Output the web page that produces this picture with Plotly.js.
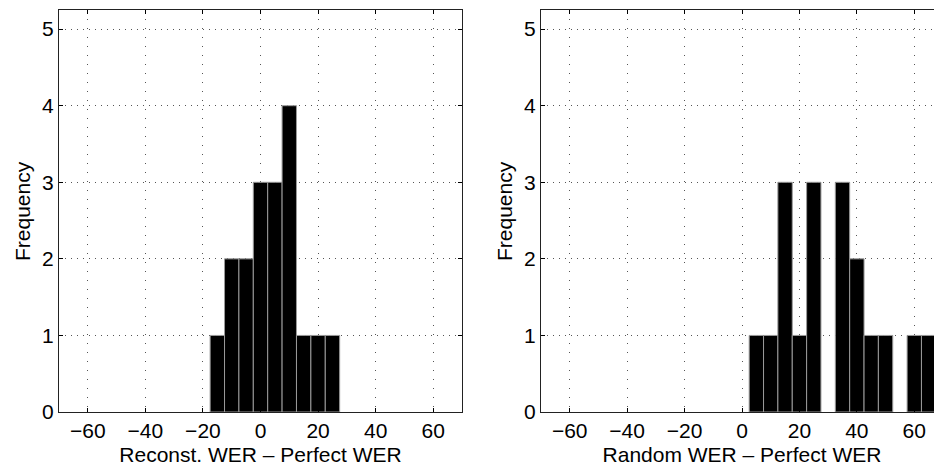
<!DOCTYPE html>
<html>
<head>
<meta charset="utf-8">
<script src="https://cdn.plot.ly/plotly-3.0.1.min.js"></script>
<style>
html, body { margin:0; padding:0; overflow:hidden; background:#fff; }
#chart { width:944px; height:469px; }
</style>
</head>
<body>
<div id="chart"></div>
<script>
// Histogram bin centers (width 5) and frequencies
const reconBins   = [-15, -10, -5, 0, 5, 10, 15, 20, 25];
const reconCounts = [  1,   2,  2, 3, 3,  4,  1,  1,  1];

const randomBins   = [5, 10, 15, 20, 25, 35, 40, 45, 50, 60, 65];
const randomCounts = [1,  1,  3,  1,  3,  3,  2,  1,  1,  1,  1];

const xTicks = [-60, -40, -20, 0, 20, 40, 60];
const yTicks = [0, 1, 2, 3, 4, 5];

const leftXTitle  = 'Reconst. WER \u2013 Perfect WER';
const rightXTitle = 'Random WER \u2013 Perfect WER';
const yTitle = 'Frequency';

const W = 944, H = 469;
const font = {family: '"Liberation Sans", Arial, Helvetica, sans-serif', size: 21, color: '#000'};

const barStyle = {color: '#000', line: {color: '#9a9a9a', width: 1}};

const traces = [
  {type: 'bar', x: reconBins, y: reconCounts, marker: barStyle, xaxis: 'x', yaxis: 'y', hoverinfo: 'x+y'},
  {type: 'bar', x: randomBins, y: randomCounts, marker: barStyle, xaxis: 'x2', yaxis: 'y2', hoverinfo: 'x+y'}
];

function xa(domain, title) {
  return {
    domain: domain, range: [-70, 70], tickvals: xTicks, ticks: 'inside', ticklen: 4,
    tickcolor: '#000', showline: true, linecolor: '#222', linewidth: 1, mirror: 'ticks',
    showgrid: true, gridcolor: '#555', gridwidth: 1, griddash: '1px,8px',
    zeroline: false, tickfont: font, title: {text: title, font: font, standoff: 6},
    fixedrange: true
  };
}
function ya(anchor) {
  return {
    domain: [57/H, 459/H], range: [0, 5.25], tickvals: yTicks, ticks: 'inside', ticklen: 4,
    tickcolor: '#000', showline: true, linecolor: '#222', linewidth: 1, mirror: 'ticks',
    showgrid: true, gridcolor: '#555', gridwidth: 1, griddash: '1px,5px',
    zeroline: false, tickfont: font, anchor: anchor,
    fixedrange: true
  };
}

const yMid = (57 + 459) / 2 / H;
const layout = {
  width: W, height: H,
  margin: {l: 0, r: 0, t: 0, b: 0},
  paper_bgcolor: '#fff', plot_bgcolor: '#fff',
  showlegend: false, bargap: 0,
  font: font,
  xaxis: Object.assign(xa([59/W, 462/W], leftXTitle), {anchor: 'y'}),
  yaxis: ya('x'),
  xaxis2: Object.assign(xa([541/W, 943/W], rightXTitle), {anchor: 'y2'}),
  yaxis2: ya('x2'),
  annotations: [
    {text: yTitle, xref: 'paper', yref: 'paper', x: 22/W, y: yMid, xanchor: 'center', yanchor: 'middle',
     textangle: -90, showarrow: false, font: font},
    {text: yTitle, xref: 'paper', yref: 'paper', x: 504/W, y: yMid, xanchor: 'center', yanchor: 'middle',
     textangle: -90, showarrow: false, font: font}
  ]
};

Plotly.newPlot('chart', traces, layout, {displayModeBar: false, staticPlot: true});
</script>
</body>
</html>
